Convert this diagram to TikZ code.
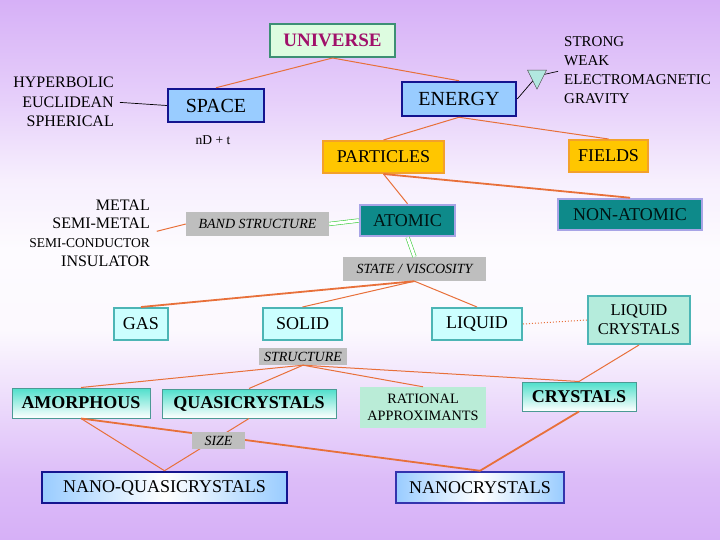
\documentclass[tikz,border=0pt]{standalone}
\usepackage{fontspec}
\setmainfont{Liberation Serif}
\usepackage{tikz}
\usetikzlibrary{arrows,shapes.geometric,positioning}
\definecolor{bgLav}{HTML}{D6B0F7}
\definecolor{lineOr}{HTML}{E8703A}
\definecolor{lineGr}{HTML}{3FCF3F}
\definecolor{uniFill}{HTML}{DDFCE0}
\definecolor{uniDraw}{HTML}{3D8F74}
\definecolor{uniText}{HTML}{A0106A}
\definecolor{blueFill}{HTML}{99CCFF}
\definecolor{blueDraw}{HTML}{14148F}
\definecolor{yelFill}{HTML}{FFC600}
\definecolor{yelDraw}{HTML}{F3A12A}
\definecolor{tealFill}{HTML}{0E8A8A}
\definecolor{tealDraw}{HTML}{A8A4E6}
\definecolor{grayFill}{HTML}{BEBEBE}
\definecolor{cyanFill}{HTML}{CCFFFF}
\definecolor{cyanDraw}{HTML}{4CB5B5}
\definecolor{lcFill}{HTML}{B5ECDC}
\definecolor{gradTop}{HTML}{4EDFCB}
\definecolor{gradDraw}{HTML}{4B9A94}
\definecolor{ratFill}{HTML}{BAECD7}
\definecolor{triFill}{HTML}{B2E8E0}
\pgfdeclareverticalshading{bgShade}{100bp}{color(0bp)=(bgLav); color(25bp)=(bgLav); color(30.6bp)=(bgLav!85!white); color(36.1bp)=(bgLav!55!white); color(44.4bp)=(bgLav!8!white); color(51.9bp)=(bgLav!5!white); color(58.3bp)=(bgLav!20!white); color(65.7bp)=(bgLav!60!white); color(75bp)=(bgLav); color(100bp)=(bgLav)}
\tikzstyle{boxNode} = [rectangle, inner sep=0pt, text centered, font=\fontsize{18}{19}\selectfont]
\tikzstyle{uniNode} = [boxNode, fill=uniFill, draw=uniDraw, line width=2pt, text=uniText, font=\bfseries\fontsize{19}{21}\selectfont]
\tikzstyle{blueNode} = [boxNode, fill=blueFill, draw=blueDraw, line width=2.5pt, font=\fontsize{20}{21}\selectfont]
\tikzstyle{yelNode} = [boxNode, fill=yelFill, draw=yelDraw, line width=2pt]
\tikzstyle{tealNode} = [boxNode, fill=tealFill, draw=tealDraw, line width=2.5pt, text=black!85!teal]
\tikzstyle{cyanNode} = [boxNode, fill=cyanFill, draw=cyanDraw, line width=2pt]
\tikzstyle{grayNode} = [boxNode, fill=grayFill, font=\itshape\fontsize{14}{15}\selectfont]
\tikzstyle{gradNode} = [boxNode, top color=gradTop, bottom color=white, draw=gradDraw, line width=1pt, font=\bfseries\fontsize{18}{20}\selectfont]
\tikzstyle{nanoNode} = [boxNode, left color=blueFill, right color=blueFill, middle color=white, draw=blueDraw, line width=2.5pt]
\tikzstyle{eNode} = [inner sep=0pt, font=\fontsize{16}{19.3}\selectfont]
\tikzstyle{arrowO} = [draw=lineOr, line width=1pt]
\tikzstyle{arrowOB} = [draw=lineOr, line width=1.8pt]
\tikzstyle{arrowG} = [draw=lineGr, line width=0.6pt, double=white, double distance=3pt]
\tikzstyle{arrowK} = [draw=black, line width=0.7pt]

\begin{document}
\begin{tikzpicture}[x=1pt, y=1pt, node distance=100pt]
    \shade [shading=bgShade] (0,0) rectangle (720,-540);

    \node (universe) [uniNode, minimum width=125pt, minimum height=33pt] at (332.5,-40.5) {UNIVERSE};
    \node (space) [blueNode, minimum width=96pt, minimum height=33pt, below of=universe, xshift=-116.5pt, yshift=35pt] {SPACE};
    \node (energy) [blueNode, minimum width=114pt, minimum height=34pt, right of=space, xshift=143pt, yshift=6.5pt] {ENERGY};
    \node (particles) [yelNode, minimum width=121pt, minimum height=32pt, below of=energy, xshift=-75.5pt, yshift=42pt] {PARTICLES};
    \node (fields) [yelNode, minimum width=79pt, minimum height=32pt, right of=particles, xshift=125pt, yshift=1pt] {FIELDS};
    \node (atomic) [tealNode, minimum width=95pt, minimum height=31pt, below of=particles, xshift=24pt, yshift=36.5pt] {ATOMIC};
    \node (band) [grayNode, minimum width=143pt, minimum height=24pt, left of=atomic, xshift=-50pt, yshift=-3.5pt] {BAND STRUCTURE};
    \node (nonatomic) [tealNode, minimum width=144pt, minimum height=31pt, right of=atomic, xshift=122.5pt, yshift=6pt] {NON-ATOMIC};
    \node (state) [grayNode, minimum width=143pt, minimum height=24pt, below of=atomic, xshift=7pt, yshift=51.5pt] {STATE / VISCOSITY};
    \node (gas) [cyanNode, minimum width=54pt, minimum height=32pt] at (141,-324) {GAS};
    \node (solid) [cyanNode, minimum width=79pt, minimum height=32pt, right of=gas, xshift=61.5pt] {SOLID};
    \node (liquid) [cyanNode, minimum width=90pt, minimum height=32pt, right of=solid, xshift=74.5pt] {LIQUID};
    \node (lc) [cyanNode, fill=lcFill, align=center, font=\fontsize{16.5}{19}\selectfont, minimum width=102pt, minimum height=48pt, right of=liquid, xshift=62pt, yshift=4pt] {LIQUID\\CRYSTALS};
    \node (structure) [grayNode, minimum width=88pt, minimum height=17pt, below of=solid, xshift=0.5pt, yshift=67.5pt] {STRUCTURE};
    \node (amorphous) [gradNode, minimum width=138pt, minimum height=30pt] at (81,-403) {AMORPHOUS};
    \node (quasi) [gradNode, minimum width=174pt, minimum height=29pt, right of=amorphous, xshift=68pt, yshift=-0.5pt] {QUASICRYSTALS};
    \node (rational) [boxNode, fill=ratFill, align=center, font=\fontsize{14.3}{16.5}\selectfont, minimum width=126pt, minimum height=41pt, right of=quasi, xshift=74pt, yshift=-4pt] {RATIONAL\\APPROXIMANTS};
    \node (crystals) [gradNode, minimum width=114pt, minimum height=29pt, right of=rational, xshift=56pt, yshift=11pt] {CRYSTALS};
    \node (nanoq) [nanoNode, minimum width=245pt, minimum height=31pt] at (164.5,-487.5) {NANO-QUASICRYSTALS};
    \node (nanoc) [nanoNode, draw=blue!60!black!80, minimum width=168pt, minimum height=31pt, right of=nanoq, xshift=215.5pt] {NANOCRYSTALS};

    \node (geom) [eNode, align=right, anchor=east] at (114,-102) {HYPERBOLIC\\EUCLIDEAN\\SPHERICAL};
    \node (forces) [eNode, font=\fontsize{15}{19}\selectfont, align=left, anchor=west] at (564,-70) {STRONG\\WEAK\\ELECTROMAGNETIC\\GRAVITY};
    \node (metals) [eNode, font=\fontsize{16}{18.7}\selectfont, align=right, anchor=east] at (150,-233) {METAL\\SEMI-METAL\\{\fontsize{13.5}{15}\selectfont SEMI-CONDUCTOR}\\INSULATOR};
    \node (ndt) [eNode, font=\fontsize{13.5}{14}\selectfont] at (213,-140) {nD + t};
    \coordinate (triC) at (537,-76);

    \draw [arrowO] (universe.south) -- (space.north);
    \draw [arrowO] (universe.south) -- (energy.north);
    \draw [arrowO] (energy.south) -- (particles.north);
    \draw [arrowO] (energy.south) -- (fields.north);
    \draw [arrowO] (particles.south) -- (atomic.north);
    \draw [arrowOB] (particles.south) -- (nonatomic.north);
    \draw [arrowK, shorten <=6pt] (geom.east) -- (space.west);
    \draw [arrowK, shorten >=6pt] (energy.east) -- (triC) -- (forces.west);
    \draw [arrowO, shorten <=7pt] (metals.east) -- (band.west);
    \draw [arrowG] (band.east) -- (atomic.west);
    \draw [arrowG] (atomic.south) -- (state.north);
    \draw [arrowOB] (state.south) -- (gas.north);
    \draw [arrowO] (state.south) -- (solid.north);
    \draw [arrowO] (state.south) -- (liquid.north);
    \draw [arrowO, dotted] (liquid.east) -- (lc.west);
    \draw [arrowO] (structure.south) -- (amorphous.north);
    \draw [arrowO] (structure.south) -- (quasi.north);
    \draw [arrowO] (structure.south) -- (rational.north);
    \draw [arrowO] (structure.south) -- (crystals.north);
    \draw [arrowO] (lc.south) -- (crystals.north);
    \draw [arrowO] (amorphous.south) -- (nanoq.north);
    \draw [arrowOB] (amorphous.south) -- (nanoc.north);
    \draw [arrowO] (quasi.south) -- (nanoq.north);
    \draw [arrowOB] (crystals.south) -- (nanoc.north);

    \node (size) [grayNode, minimum width=53pt, minimum height=17pt, above of=nanoq, xshift=54pt, yshift=-53pt] {SIZE};
    \node (tri) [isosceles triangle, shape border rotate=-90, isosceles triangle stretches, minimum width=19pt, minimum height=19pt, inner sep=0pt, fill=triFill, draw=black!70, line width=0.5pt] at (triC) {};
\end{tikzpicture}
\end{document}
